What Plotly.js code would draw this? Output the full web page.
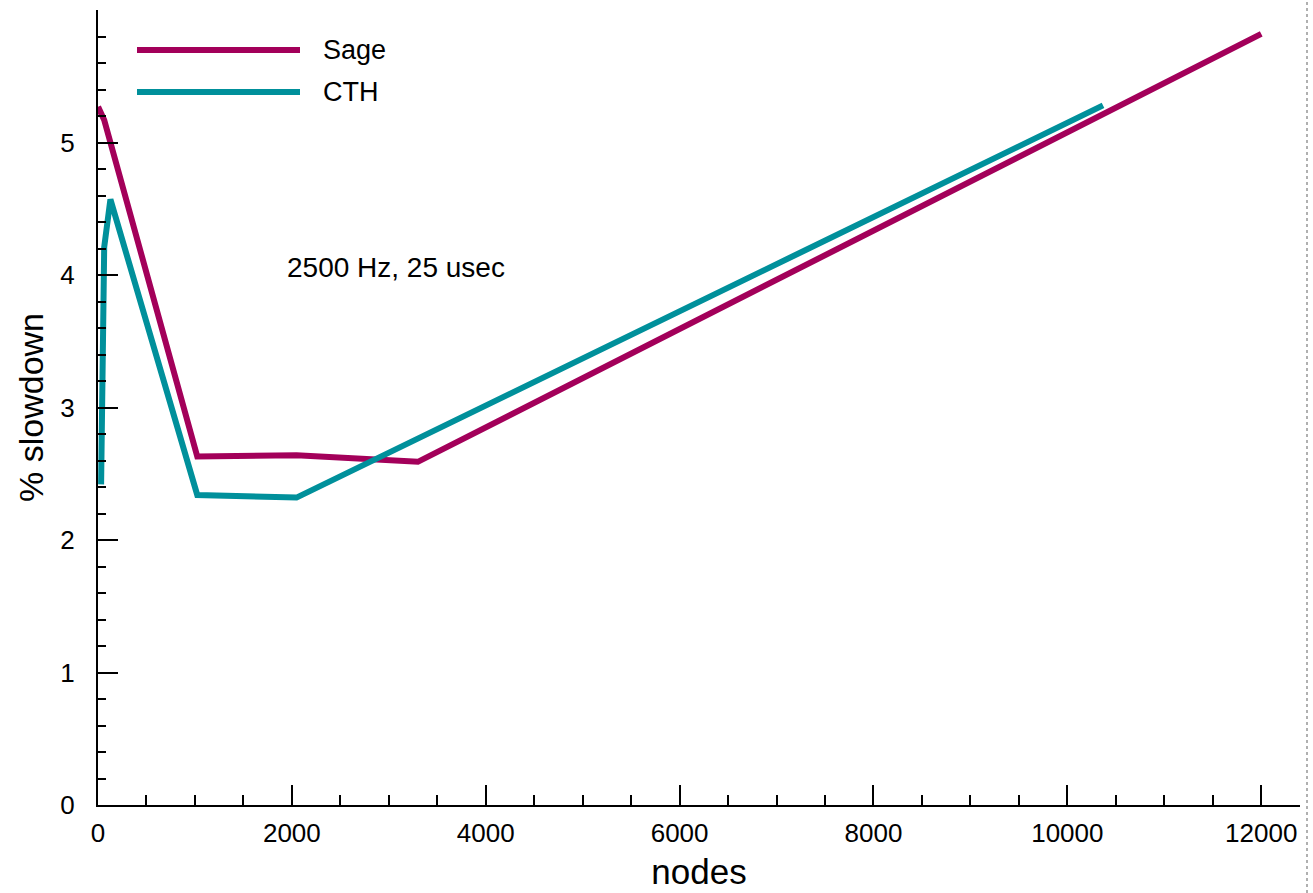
<!DOCTYPE html>
<html>
<head>
<meta charset="utf-8">
<script src="https://cdn.plot.ly/plotly-3.0.1.min.js"></script>
<style>html,body{margin:0;padding:0;background:#fff;}#chart{width:1313px;height:893px;}</style>
</head>
<body>
<div id="chart"></div>
<script>
var sageNodes = [1, 64, 1024, 2048, 3300, 12000];
var sageSlowdown = [5.27, 5.17, 2.63, 2.64, 2.59, 5.82];
var cthNodes = [32, 64, 128, 1024, 2048, 10368];
var cthSlowdown = [2.42, 4.21, 4.57, 2.34, 2.32, 5.28];
var seriesNames = ['Sage', 'CTH'];
var seriesColors = ['#a3005a', '#00909b'];
var annotationText = '2500 Hz, 25 usec';

var font = 'Liberation Sans, Arial, Helvetica, sans-serif';

var traces = [
  {x: sageNodes, y: sageSlowdown, mode: 'lines', name: seriesNames[0],
   line: {color: seriesColors[0], width: 6}},
  {x: cthNodes, y: cthSlowdown, mode: 'lines', name: seriesNames[1],
   line: {color: seriesColors[1], width: 6}}
];

var pw = 1202, ph = 795;
function px(v){ return (v - 98) / pw; }
function py(v){ return (805 - v) / ph; }

var layout = {
  width: 1313, height: 893,
  margin: {l: 98, r: 13, t: 10, b: 88},
  paper_bgcolor: '#fff', plot_bgcolor: '#fff',
  showlegend: false,
  font: {family: font, color: '#000', size: 26},
  xaxis: {
    range: [0, 12400], showgrid: false, zeroline: false,
    showline: true, linecolor: '#000', linewidth: 2,
    ticks: 'inside', ticklen: 20, tickwidth: 2, tickcolor: '#000',
    dtick: 2000, tick0: 0, tickformat: 'd', ticklabelstandoff: 4,
    tickfont: {size: 26, family: font},
    minor: {dtick: 500, ticklen: 10, tickwidth: 2, tickcolor: '#000', ticks: 'inside', showgrid: false},
    title: {text: 'nodes', font: {size: 35, family: font}, standoff: 12}
  },
  yaxis: {
    range: [0, 6], showgrid: false, zeroline: false,
    showline: true, linecolor: '#000', linewidth: 2,
    ticks: 'inside', ticklen: 20, tickwidth: 2, tickcolor: '#000',
    tickvals: [0,1,2,3,4,5], ticklabelstandoff: 16,
    tickfont: {size: 26, family: font},
    minor: {dtick: 0.2, ticklen: 8, tickwidth: 2, tickcolor: '#000', ticks: 'inside', showgrid: false},
    title: {text: '% slowdown', font: {size: 34, family: font}, standoff: 6}
  },
  shapes: [
    {type: 'line', xref: 'paper', yref: 'paper', x0: px(137), x1: px(300), y0: py(50), y1: py(50),
     line: {color: seriesColors[0], width: 6}},
    {type: 'line', xref: 'paper', yref: 'paper', x0: px(137), x1: px(300), y0: py(92), y1: py(92),
     line: {color: seriesColors[1], width: 6}},
    {type: 'line', xref: 'paper', yref: 'paper', x0: px(1307), x1: px(1307), y0: py(893), y1: py(0),
     line: {color: '#b0b0b0', width: 2, dash: 'dot'}}
  ],
  annotations: [
    {xref: 'paper', yref: 'paper', x: px(321), y: py(50), text: seriesNames[0], showarrow: false,
     xanchor: 'left', yanchor: 'middle', font: {size: 27, family: font}},
    {xref: 'paper', yref: 'paper', x: px(321), y: py(92), text: seriesNames[1], showarrow: false,
     xanchor: 'left', yanchor: 'middle', font: {size: 27, family: font}},
    {x: 3072, y: 4.06, text: annotationText, showarrow: false, xanchor: 'center', yanchor: 'middle',
     font: {size: 28, family: font}}
  ]
};

Plotly.newPlot('chart', traces, layout, {displayModeBar: false, staticPlot: true});
</script>
</body>
</html>
